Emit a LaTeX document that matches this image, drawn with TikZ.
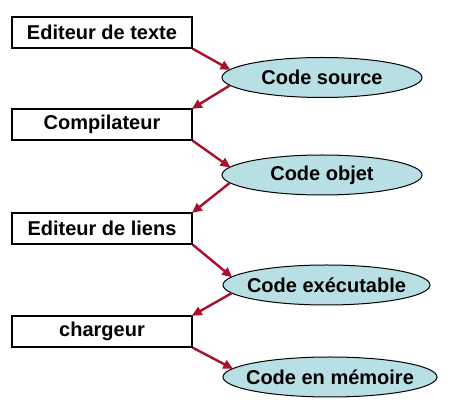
\documentclass[tikz,border=0pt]{standalone}
\usepackage{fontspec}
\setmainfont{Liberation Sans}
\usetikzlibrary{arrows.meta,shapes.geometric}
\definecolor{arrowred}{HTML}{A8102C}
\definecolor{ellfill}{HTML}{B8E0E4}
\tikzset{
  procbox/.style={draw=black, line width=1.4pt, rectangle, minimum width=180pt, minimum height=31pt, inner sep=0pt, font=\fontsize{20}{24}\selectfont\bfseries},
  codeell/.style={draw=black, line width=1pt, fill=ellfill, ellipse, minimum height=40pt, inner sep=0pt, font=\fontsize{20}{24}\selectfont\bfseries},
  flow/.style={draw=arrowred, line width=2.4pt, -{Triangle[length=10pt,width=9pt]}, shorten >=-1pt}
}
\newcommand{\zw}[1]{\makebox[0pt]{#1}}
\begin{document}
\begin{tikzpicture}[x=1pt,y=-1pt]
\useasboundingbox (0,0) rectangle (451,419);
\node[procbox] (b1) at (102,32.5) {Editeur de texte};
\node[procbox] (b2) at (102,124.5) {Compilateur};
\node[procbox] (b3) at (102,228.5) {Editeur de liens};
\node[procbox] (b4) at (102,331.5) {chargeur};
\node[codeell, minimum width=200pt] (e1) at (322,77.5) {\zw{Code source}};
\node[codeell, minimum width=200pt] (e2) at (322,175) {\zw{Code objet}};
\node[codeell, minimum width=207pt] (e3) at (326.5,285) {\zw{Code exécutable}};
\node[codeell, minimum width=214pt] (e4) at (330,377) {\zw{Code en mémoire}};
\draw[flow] (b1.south east) -- (e1.175);
\draw[flow] (e1.185) -- (b2.north east);
\draw[flow] (b2.south east) -- (e2.175);
\draw[flow] (e2.185) -- (b3.north east);
\draw[flow] (b3.south east) -- (e3.175);
\draw[flow] (e3.185) -- (b4.north east);
\draw[flow] (b4.south east) -- (e4.175);
\end{tikzpicture}
\end{document}
